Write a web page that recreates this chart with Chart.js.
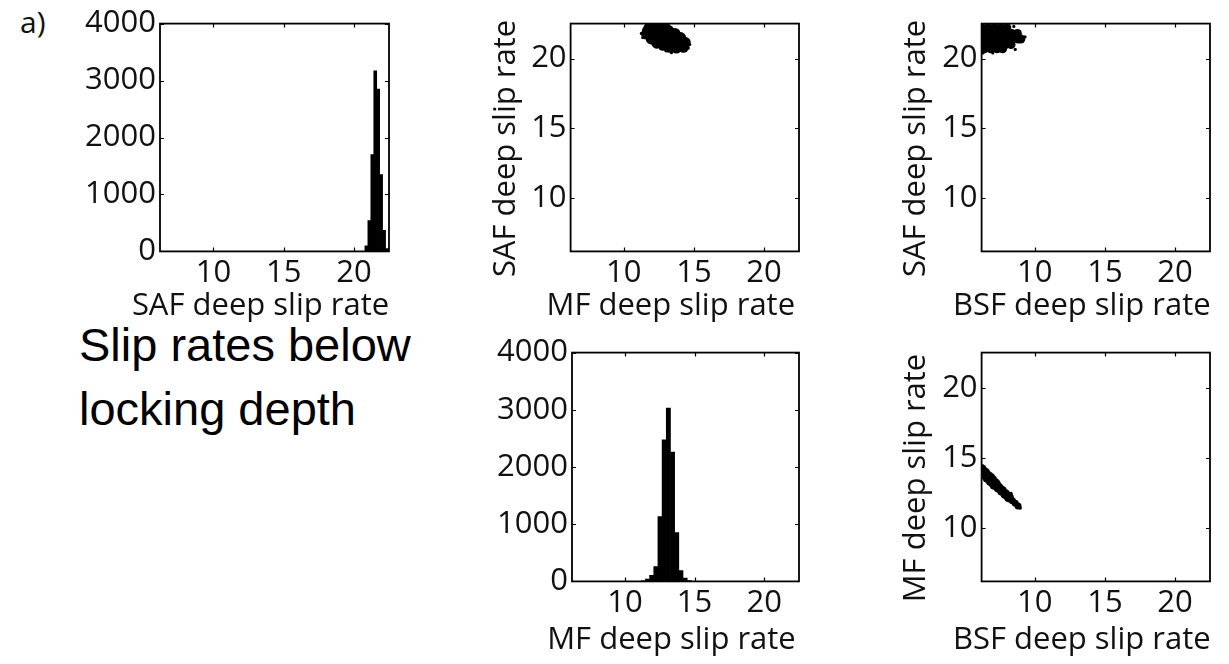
<!DOCTYPE html>
<html>
<head>
<meta charset="utf-8">
<script src="https://cdn.jsdelivr.net/npm/chart.js@4.4.0/dist/chart.umd.min.js"></script>
<style>
  body { margin: 0; background: #fff; }
  #page { position: relative; width: 1229px; height: 664px; overflow: hidden; }
  canvas { position: absolute; }
  .txt { position: absolute; color: #111; white-space: nowrap; }
  #tag { left: 20px; top: 1px; font: 30px "Open Sans", "Noto Sans", sans-serif; }
  #note { left: 79px; top: 313px; font: 47px "Liberation Sans", Arial, sans-serif; line-height: 64px; color: #000; }
</style>
</head>
<body>
<div id="page">
  <div id="tag" class="txt">a)</div>
  <div id="note" class="txt">Slip rates below<br>locking depth</div>
  <canvas id="safHist"></canvas>
  <canvas id="mfSaf"></canvas>
  <canvas id="bsfSaf"></canvas>
  <canvas id="mfHist"></canvas>
  <canvas id="bsfMf"></canvas>
</div>
<script>
// axis ticks shared by every panel
const rateTicks = [10, 15, 20];
const countTicks = [0, 1000, 2000, 3000, 4000];

// histogram of SAF deep slip rate (bin centres / counts)
const safBins = [20.89, 21.10, 21.31, 21.52, 21.73, 21.94, 22.15, 22.36];
const safCounts = [100, 540, 1700, 3170, 2850, 1350, 370, 50];

// histogram of MF deep slip rate
const mfBins = [11.32, 11.62, 11.92, 12.22, 12.52, 12.82, 13.12, 13.42, 13.72, 14.02, 14.32, 14.62];
const mfCounts = [10, 40, 105, 260, 1135, 2475, 3030, 2260, 855, 190, 60, 15];

// MF vs SAF samples (dense core + stray samples)
const mfSafCoreMF = [11.62, 11.68, 11.8, 11.95, 12.05, 12.2, 12.35, 12.55, 12.7, 12.8, 13.0, 13.2,
  13.25, 13.45, 13.65, 13.75, 13.9, 14.05, 14.25, 14.3, 14.38, 12.4, 12.9, 13.5, 12.6];
const mfSafCoreSAF = [21.75, 21.98, 22.2, 21.4, 21.8, 22.25, 21.1, 21.6, 22.15, 20.95, 21.45, 22.0,
  20.8, 21.3, 21.8, 20.75, 21.1, 21.5, 20.8, 20.98, 21.15, 22.4, 22.35, 21.05, 21.35];
const mfSafStrayMF = [11.25, 11.35, 14.7, 14.6, 13.4, 12.3, 11.9, 14.45, 13.0, 12.95];
const mfSafStraySAF = [21.8, 21.5, 21.0, 20.75, 20.42, 20.85, 22.4, 21.4, 20.55, 22.45];

// BSF vs SAF samples
const bsfSafCoreBSF = [6.2, 6.65, 7.1, 7.55, 8.0,
  6.1, 6.55, 7.0, 7.45, 7.9, 8.35, 8.75,
  6.1, 6.55, 7.0, 7.45, 7.9, 8.35, 8.8, 9.0,
  6.1, 6.55, 7.0, 7.45, 7.9, 8.3,
  6.4, 6.85, 7.3, 7.7, 5.85, 5.85, 5.85];
const bsfSafCoreSAF = [22.2, 22.2, 22.2, 22.2, 22.2,
  21.8, 21.8, 21.8, 21.8, 21.8, 21.8, 21.8,
  21.4, 21.4, 21.4, 21.4, 21.4, 21.4, 21.4, 21.4,
  21.0, 21.0, 21.0, 21.0, 21.0, 21.0,
  20.7, 20.7, 20.7, 20.7, 22.0, 21.5, 21.0];
const bsfSafStrayBSF = [9.3, 8.6, 7.0, 8.9, 6.3, 8.5];
const bsfSafStraySAF = [21.55, 20.65, 20.4, 21.95, 20.4, 22.3];

// BSF vs MF samples: thick upper part, thinner middle, thin tail
const bsfMfThickBSF = [5.9, 6.15, 6.4, 6.65, 6.9, 7.15];
const bsfMfThickMF = [14.4, 14.15, 13.9, 13.64, 13.39, 13.13];
const bsfMfMidBSF = [7.4, 7.65, 7.9, 8.15];
const bsfMfMidMF = [12.88, 12.65, 12.41, 12.18];
const bsfMfThinBSF = [8.4, 8.6, 8.8];
const bsfMfThinMF = [11.95, 11.76, 11.57];
const bsfMfStrayBSF = [8.95, 7.0, 8.3];
const bsfMfStrayMF = [11.43, 13.75, 12.45];

const FS = 31;
const LH = FS * 1.2;
const FAMILY = "'Open Sans', 'Noto Sans', sans-serif";
Chart.defaults.font.family = FAMILY;
Chart.defaults.font.size = FS;
Chart.defaults.color = "#111";

// MATLAB style frame with inward ticks on all four sides
const framePlugin = {
  id: "frame",
  afterDatasetsDraw(chart) {
    const { ctx, chartArea: a, scales: { x, y } } = chart;
    ctx.save();
    ctx.strokeStyle = "#000";
    ctx.lineWidth = 1.2;
    ctx.beginPath();
    x.ticks.forEach((t) => {
      const px = Math.round(x.getPixelForValue(t.value)) + 0.5;
      ctx.moveTo(px, a.bottom); ctx.lineTo(px, a.bottom - 4);
      ctx.moveTo(px, a.top); ctx.lineTo(px, a.top + 4);
    });
    y.ticks.forEach((t) => {
      const py = Math.round(y.getPixelForValue(t.value)) + 0.5;
      ctx.moveTo(a.left, py); ctx.lineTo(a.left + 4, py);
      ctx.moveTo(a.right, py); ctx.lineTo(a.right - 4, py);
    });
    ctx.stroke();
    ctx.lineWidth = 1.8;
    ctx.strokeRect(a.left, a.top, a.right - a.left, a.bottom - a.top);
    ctx.restore();
  },
};

// axis titles drawn without the width limit Chart.js puts on scale titles
const titlePlugin = {
  id: "axisTitles",
  afterDraw(chart, args, o) {
    const { ctx, chartArea: a } = chart;
    ctx.save();
    ctx.fillStyle = "#111";
    ctx.font = FS + "px " + FAMILY;
    ctx.textAlign = "center";
    ctx.textBaseline = "middle";
    ctx.fillText(chart.options.scales.x.title.text, (a.left + a.right) / 2 - 14, o.xY);
    const yText = chart.options.scales.y.title.text;
    if (yText) {
      ctx.translate(o.yX, (a.top + a.bottom) / 2 + 11);
      ctx.rotate(-Math.PI / 2);
      ctx.fillText(yText, 0, 0);
    }
    ctx.restore();
  },
};

const pts = (xs, ys) => xs.map((v, i) => ({ x: v, y: ys[i] }));
const plain = (v) => String(v);
const axisFont = { family: FAMILY, size: FS, lineHeight: 1.2 };

function panel(id, box, opt) {
  const scaleLeft = opt.yTitle ? opt.yTitleX - LH / 2 : box.l - 100;
  const top = box.t - 22;
  const right = box.r + 15;
  const xBottom = opt.xTitleY + LH / 2;
  const cv = document.getElementById(id);
  cv.style.left = scaleLeft + "px";
  cv.style.top = top + "px";
  cv.width = Math.round(right - scaleLeft);
  cv.height = Math.round(xBottom + 4 - top);

  const yTicks = opt.hist ? countTicks : rateTicks;
  new Chart(cv, {
    type: opt.hist ? "bar" : "scatter",
    data: { datasets: opt.datasets },
    options: {
      responsive: false,
      animation: false,
      devicePixelRatio: 1,
      layout: { padding: { left: 0, top: 22, right: 15, bottom: 4 } },
      plugins: {
        legend: { display: false },
        tooltip: { enabled: false },
        axisTitles: { xY: opt.xTitleY - top, yX: opt.yTitle ? opt.yTitleX - scaleLeft : 0 },
      },
      scales: {
        x: {
          type: "linear",
          min: 6.2,
          max: 22.5,
          offset: false,
          grid: { display: false, drawTicks: false, offset: false },
          border: { display: false },
          ticks: { padding: 3, color: "#111", font: axisFont, callback: plain },
          afterBuildTicks: (s) => { s.ticks = rateTicks.map((v) => ({ value: v })); },
          afterFit: (s) => { s.height = xBottom - box.b; },
          title: { display: false, text: opt.xTitle },
        },
        y: {
          type: "linear",
          min: opt.hist ? 0 : 6.2,
          max: opt.hist ? 4000 : 22.5,
          grid: { display: false, drawTicks: false },
          border: { display: false },
          ticks: { padding: 4, color: "#111", font: axisFont, callback: plain },
          afterBuildTicks: (s) => { s.ticks = yTicks.map((v) => ({ value: v })); },
          afterFit: (s) => { s.width = box.l - scaleLeft; },
          title: { display: false, text: opt.yTitle || "" },
        },
      },
    },
    plugins: [framePlugin, titlePlugin],
  });
}

function histSet(bins, counts) {
  return [{
    data: pts(bins, counts),
    backgroundColor: "#000",
    borderWidth: 0,
    barPercentage: 1,
    categoryPercentage: 1,
  }];
}

function dotSet(xs, ys, r) {
  return { data: pts(xs, ys), pointRadius: r, backgroundColor: "#000", borderWidth: 0 };
}

panel("safHist", { l: 160, t: 23, r: 389, b: 251 }, {
  hist: true, xTitle: "SAF deep slip rate", xTitleY: 306,
  datasets: histSet(safBins, safCounts),
});

panel("mfSaf", { l: 571, t: 23, r: 799, b: 251 }, {
  xTitle: "MF deep slip rate", xTitleY: 306, yTitle: "SAF deep slip rate", yTitleX: 507,
  datasets: [dotSet(mfSafCoreMF, mfSafCoreSAF, 5.5), dotSet(mfSafStrayMF, mfSafStraySAF, 1.6)],
});

panel("bsfSaf", { l: 982, t: 23, r: 1210, b: 251 }, {
  xTitle: "BSF deep slip rate", xTitleY: 306, yTitle: "SAF deep slip rate", yTitleX: 917,
  datasets: [dotSet(bsfSafCoreBSF, bsfSafCoreSAF, 4.5), dotSet(bsfSafStrayBSF, bsfSafStraySAF, 1.6)],
});

panel("mfHist", { l: 572, t: 352, r: 799, b: 581 }, {
  hist: true, xTitle: "MF deep slip rate", xTitleY: 640,
  datasets: histSet(mfBins, mfCounts),
});

panel("bsfMf", { l: 982, t: 352, r: 1210, b: 581 }, {
  xTitle: "BSF deep slip rate", xTitleY: 640, yTitle: "MF deep slip rate", yTitleX: 917,
  datasets: [
    dotSet(bsfMfThickBSF, bsfMfThickMF, 6),
    dotSet(bsfMfMidBSF, bsfMfMidMF, 5),
    dotSet(bsfMfThinBSF, bsfMfThinMF, 3.5),
    dotSet(bsfMfStrayBSF, bsfMfStrayMF, 1.8),
  ],
});
</script>
</body>
</html>
